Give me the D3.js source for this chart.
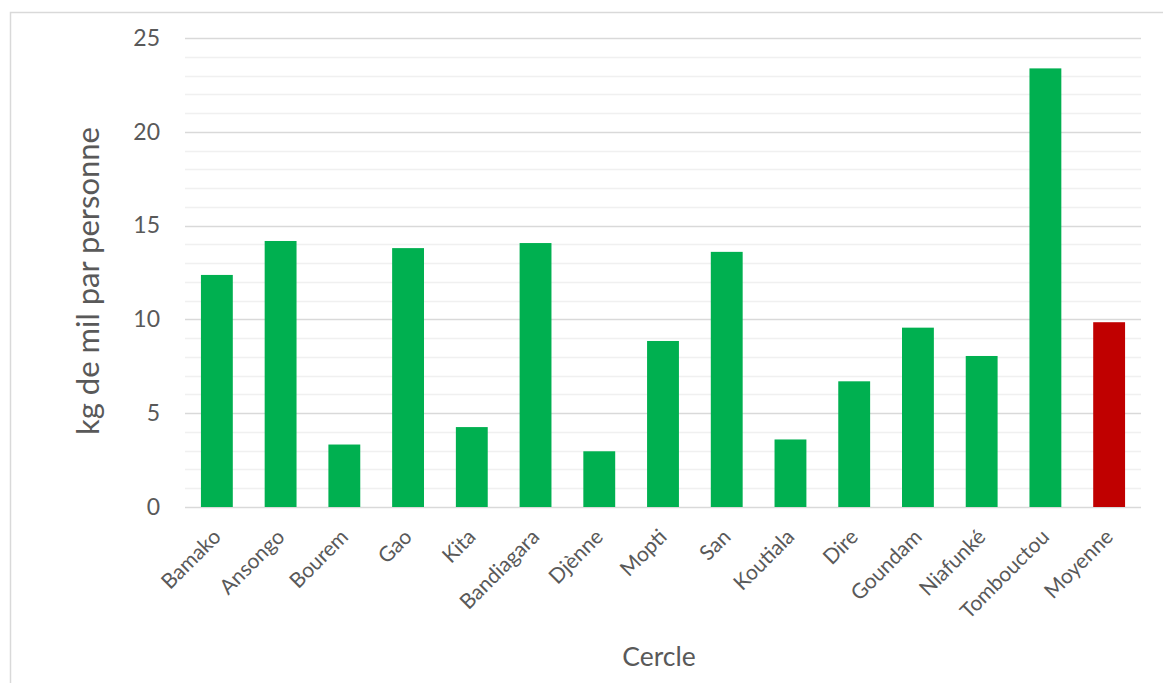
<!DOCTYPE html>
<html>
<head>
<meta charset="utf-8">
<script src="https://cdn.jsdelivr.net/npm/d3@7"></script>
<style>
  body { margin: 0; background: #fff; }
  svg text { font-family: Lato, "Open Sans", sans-serif; fill: #595959; }
</style>
</head>
<body>
<div class="canvas"></div>
<script>
let cercles = ['Bamako', 'Ansongo', 'Bourem', 'Gao', 'Kita', 'Bandiagara', 'Djènne', 'Mopti', 'San', 'Koutiala', 'Dire', 'Goundam', 'Niafunké', 'Tombouctou', 'Moyenne'];
let kgValues = [12.37, 14.18, 3.33, 13.8, 4.26, 14.07, 2.97, 8.85, 13.6, 3.6, 6.7, 9.56, 8.05, 23.38, 9.85];
let yTicks = [0, 5, 10, 15, 20, 25];

let width = 1163;
let height = 683;
const margin = { top: 38, right: 22, bottom: 176, left: 185 };
let plotWidth = width - margin.left - margin.right;
let plotHeight = height - margin.top - margin.bottom;

let svg = d3.select('.canvas')
  .append('svg')
  .attr('width', width)
  .attr('height', height);

// outer chart border (only top/left visible in the frame)
svg.append('rect')
  .attr('x', 10.5)
  .attr('y', 12.5)
  .attr('width', width + 20)
  .attr('height', height + 20)
  .attr('fill', 'none')
  .attr('stroke', '#d9d9d9')
  .attr('stroke-width', 1.5);

let g = svg.append('g')
  .attr('transform', `translate(${margin.left}, ${margin.top})`);

let xScale = d3.scaleBand()
  .domain(cercles)
  .range([0, plotWidth])
  .paddingInner(0.5)
  .paddingOuter(0.25);

let yScale = d3.scaleLinear()
  .domain([0, 25])
  .range([plotHeight, 0]);

// minor gridlines every 1 unit
g.append('g')
  .selectAll('line')
  .data(d3.range(0, 26).filter(v => v % 5 !== 0))
  .enter()
  .append('line')
  .attr('x1', 0)
  .attr('x2', plotWidth)
  .attr('y1', d => Math.round(yScale(d)) + 0.5)
  .attr('y2', d => Math.round(yScale(d)) + 0.5)
  .attr('stroke', '#f0f0f0')
  .attr('stroke-width', 1.5);

// major gridlines
g.append('g')
  .selectAll('line')
  .data(yTicks)
  .enter()
  .append('line')
  .attr('x1', 0)
  .attr('x2', plotWidth)
  .attr('y1', d => Math.round(yScale(d)) + 0.5)
  .attr('y2', d => Math.round(yScale(d)) + 0.5)
  .attr('stroke', '#d9d9d9')
  .attr('stroke-width', 1.5);

// bars
g.selectAll('.bar')
  .data(cercles)
  .enter()
  .append('rect')
  .attr('class', 'bar')
  .attr('x', d => xScale(d))
  .attr('y', (d, i) => yScale(kgValues[i]))
  .attr('width', xScale.bandwidth())
  .attr('height', (d, i) => plotHeight - yScale(kgValues[i]))
  .attr('fill', d => d === 'Moyenne' ? '#c00000' : '#00b050');

// y axis labels
let yAxis = g.append('g')
  .call(d3.axisLeft(yScale).tickValues(yTicks).tickSize(0).tickPadding(25));
yAxis.select('.domain').remove();
yAxis.selectAll('text')
  .style('font-size', '23px')
  .attr('fill', '#595959');

// x axis labels
let xAxis = g.append('g')
  .attr('transform', `translate(0, ${plotHeight})`)
  .call(d3.axisBottom(xScale).tickSize(0));
xAxis.select('.domain').remove();
xAxis.selectAll('text')
  .style('font-size', '21px')
  .attr('fill', '#595959')
  .attr('text-anchor', 'end')
  .attr('dy', '0.35em')
  .attr('y', 0)
  .attr('transform', 'translate(0, 26) rotate(-45)');

// axis titles
svg.append('text')
  .attr('transform', `translate(99, 281) rotate(-90)`)
  .attr('text-anchor', 'middle')
  .style('font-size', '31px')
  .text('kg de mil par personne');

svg.append('text')
  .attr('x', 659)
  .attr('y', 666)
  .attr('text-anchor', 'middle')
  .style('font-size', '26.5px')
  .text('Cercle');
</script>
</body>
</html>
